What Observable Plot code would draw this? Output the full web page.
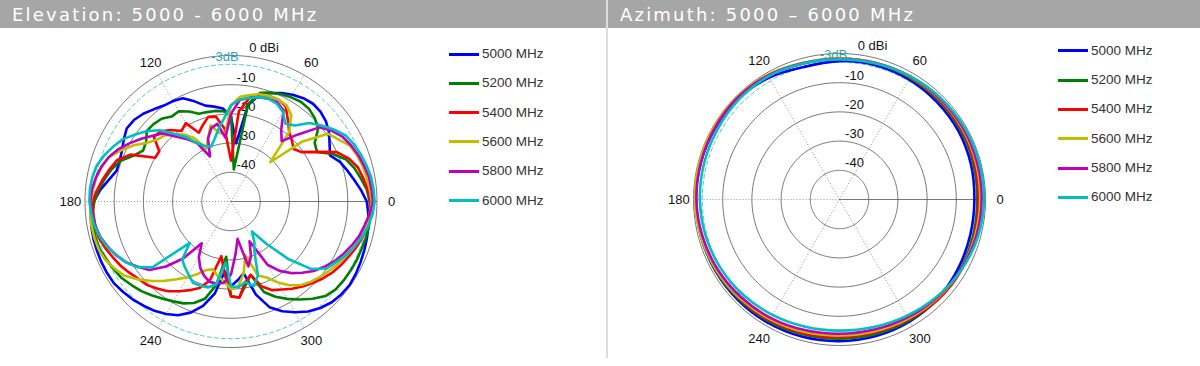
<!DOCTYPE html>
<html>
<head>
<meta charset="utf-8">
<script src="https://cdn.jsdelivr.net/npm/d3@7"></script>
<script src="https://cdn.jsdelivr.net/npm/@observablehq/plot@0.6"></script>
<style>
  html, body { margin: 0; padding: 0; background: #fff; width: 1200px; height: 366px; overflow: hidden; }
  body { position: relative; font-family: "Liberation Sans", Arial, sans-serif; }
  #hdr { position: absolute; left: 0; top: 0; width: 1200px; height: 28px; background: #a6a6a6; z-index: 5; }
  .title { position: absolute; top: 0; height: 28px; line-height: 30px; color: #fff; font-family: "DejaVu Sans", sans-serif; font-size: 18px; letter-spacing: 2.2px; white-space: nowrap; }
  #sep { position: absolute; left: 606px; top: 0; width: 2px; height: 358px; background: #dcdcdc; z-index: 6; }
  .panel { position: absolute; top: 0; }
  .lrow { position: absolute; height: 16px; white-space: nowrap; font-size: 13.5px; color: #333; }
  .lrow .sw { position: absolute; left: 0; top: 6.5px; width: 30px; height: 3px; }
  .lrow .tx { position: absolute; left: 33px; top: 0; line-height: 16px; }
</style>
</head>
<body>
<div id="hdr">
  <div class="title" style="left:12px">Elevation: 5000 - 6000 MHz</div>
  <div class="title" style="left:620px">Azimuth: 5000 – 6000 MHz</div>
</div>
<div id="sep"></div>
<div id="left" class="panel" style="left:0px"></div>
<div id="right" class="panel" style="left:607px"></div>
<div id="legL"></div>
<div id="legR"></div>
<script>
// ---------- data ----------
const freqs = ["5000 MHz", "5200 MHz", "5400 MHz", "5600 MHz", "5800 MHz", "6000 MHz"];
const colors = ["#0000ff", "#008000", "#ff0000", "#bfbf00", "#bf00bf", "#00bfbf"];

const elevAngles = [0,5,10,15,20,25,30,35,40,45,50,55,60,65,70,75,80,85,90,95,100,105,110,115,120,125,130,135,140,145,150,155,160,165,170,175,
  180,185,190,195,200,205,210,215,220,225,230,235,240,245,250,255,260,265,270,275,280,285,290,295,300,305,310,315,320,325,330,335,340,345,350,355];

const elev5000 = [-3.5,-5.3,-7.2,-8.8,-10.3,-12.6,-11,-9,-7.5,-6.6,-6.3,-6.8,-7.8,-9,-10.5,-12,-16.5,-30,-21,-18,-17,-16,-13.5,-11,-10.3,-9.9,-8.8,-7.5,-6.6,-6.4,-7.6,-8.8,-9.4,-9.4,-7.5,-5,
  -3,-1.8,-1.4,-1.2,-1.1,-1,-1,-1.1,-1.8,-2.5,-3.4,-4.3,-5.5,-7,-9.5,-13,-18,-26,-21,-23,-25,-17,-11.5,-8.5,-6.2,-4,-2.4,-1.2,-0.6,-0.3,-0.6,-1,-1.4,-1.8,-2.2,-2.8];
const elev5200 = [-2.5,-3.3,-4.8,-6.2,-8,-11.5,-16,-15,-11,-9.5,-8.5,-8.3,-8.8,-9.5,-10.3,-11.5,-16,-39,-20,-19,-18.5,-18.3,-18,-16,-14.3,-14.5,-13,-12.5,-12.4,-14.5,-15.2,-13,-9.6,-7.6,-6,-4.5,
  -3.2,-2.4,-2.1,-2,-2.2,-3,-3.6,-4.3,-5.5,-6.6,-8,-9.3,-10.5,-11.5,-13,-15.5,-21,-31,-17.5,-17,-21,-24,-17,-14,-11.5,-9,-6.5,-4.2,-3.2,-2.9,-2.7,-2.5,-2.4,-2.2,-2,-2.1];
const elev5400 = [-2.2,-3,-4,-5,-7,-10,-16,-20.5,-22,-20.5,-19,-16,-12.5,-11.5,-11.5,-12,-14,-19,-36,-25,-20.5,-20,-22,-24,-19,-20.5,-18,-16,-15.5,-20,-20,-12,-8.5,-7,-5.5,-4,
  -2.5,-2.6,-2.8,-3,-4,-5.2,-6.2,-7.5,-8.7,-9.5,-11,-12.5,-14.5,-16.5,-18.5,-22,-31,-25,-17.5,-17,-22,-24,-19,-16.5,-15.2,-13.5,-12,-10.5,-9,-7.6,-6.5,-5.5,-4.3,-3.3,-2.6,-2.3];
const elev5600 = [-1.8,-2.3,-2.8,-3.3,-4,-5,-7.5,-9.5,-18,-31,-19,-14,-12,-11.5,-11.5,-12,-13,-14,-17,-27,-26,-23,-27,-30,-25,-22,-20,-18,-17,-15,-11.5,-8.5,-5.5,-4.2,-3.2,-2.5,
  -2,-1.6,-1.5,-1.6,-1.8,-2.6,-4,-5.6,-8.5,-11.5,-14.5,-17.5,-20,-22.5,-25,-26,-24,-22.5,-20,-21,-25,-31,-23,-21.3,-18,-15,-12.7,-11.2,-10,-8.8,-7.5,-6.3,-5,-3.8,-3,-2.3];
const elev5800 = [-1.4,-1.7,-2,-2.8,-3.6,-4.6,-5.8,-7.8,-10.5,-17.5,-23,-20,-14,-12.5,-12.5,-13,-14,-15,-20,-28,-23,-24,-27,-33,-27,-24,-21,-17,-15,-12.5,-10,-7.5,-5.5,-4,-3,-2.2,
  -1.8,-2.2,-2.8,-3.6,-5,-6.5,-8.5,-11,-13.5,-18.5,-24.5,-32.5,-28,-25,-23,-21.5,-21.5,-22,-25,-32,-37,-27,-30,-35,-25,-21,-18,-15.5,-13,-11,-9.1,-7.5,-6,-4.5,-3.5,-2.3];
const elev6000 = [-0.8,-1,-1.3,-2,-2.7,-3.6,-4.7,-7,-9.5,-12,-16,-17.5,-14.5,-13,-12.5,-13,-14,-15,-17,-21.6,-25,-28,-30,-29,-27,-23,-19.7,-15.5,-12.5,-10,-7.3,-5.5,-3.8,-2.4,-1.8,-1.5,
  -1.5,-2,-2.5,-3.5,-4.8,-6.7,-8.4,-10.8,-15,-30,-24,-22.5,-21,-19.3,-19.3,-19.5,-21.3,-29,-21,-20.5,-22,-20,-23,-31,-34,-37.5,-31,-22,-14,-10,-8.5,-6.5,-5,-3.5,-2.2,-1.3];

const azAngles = [0,15,30,45,60,75,90,105,120,135,150,165,180,195,210,225,240,255,270,285,300,315,330,345];
const az5000 = [-3.8,-3.4,-3.0,-2.8,-2.5,-2.4,-2.6,-3.0,-1.8,-1.0,-0.9,-0.8,-0.8,-0.9,-1.0,-1.1,-1.2,-1.3,-1.5,-1.6,-1.8,-2.2,-3.0,-3.6];
const az5200 = [-2.8,-2.5,-2.2,-2.1,-1.9,-1.8,-1.8,-1.8,-1.2,-0.7,-0.6,-0.7,-0.8,-1.0,-1.2,-1.5,-1.8,-2.1,-2.3,-2.3,-2.2,-2.0,-2.2,-2.6];
const az5400 = [-2.4,-2.1,-1.8,-1.7,-1.6,-1.6,-1.7,-1.7,-1.1,-0.6,-0.6,-0.7,-0.8,-1.1,-1.4,-1.8,-2.2,-2.6,-2.9,-2.9,-2.6,-1.9,-1.8,-2.2];
const az5600 = [-1.8,-1.6,-1.4,-1.4,-1.5,-1.6,-1.7,-1.5,-0.7,-0.3,-0.3,-0.4,-0.5,-0.9,-1.4,-2.0,-2.6,-3.1,-3.4,-3.3,-2.9,-2.4,-2.0,-1.9];
const az5800 = [-1.3,-1.2,-1.1,-1.2,-1.4,-1.7,-1.9,-1.7,-1.0,-0.7,-0.8,-0.9,-1.0,-1.4,-1.9,-2.5,-3.1,-3.7,-4.0,-3.9,-3.4,-2.7,-2.0,-1.5];
const az6000 = [-0.5,-0.5,-0.6,-0.9,-1.3,-1.8,-2.0,-1.8,-1.3,-1.4,-1.8,-2.0,-2.2,-2.5,-3.0,-3.6,-4.3,-4.9,-5.1,-4.8,-4.0,-2.9,-1.8,-0.9];

const ringDb = [-40, -30, -20, -10, 0];
const ringLabels = ["-40", "-30", "-20", "-10"];
const spokeAngles = [60, 120, 180, 240, 300];
const angleTicks = [0, 60, 120, 180, 240, 300];
const minDb = -50;

// ---------- drawing ----------
const R = 146;            // outer radius in px
const U = R / (0 - minDb); // px per dB
const font = "'Liberation Sans', Arial, sans-serif";

function pt(deg, r) {
  const t = deg * Math.PI / 180;
  return {x: r * Math.cos(t), y: r * Math.sin(t)};
}
function gainPt(deg, g) { return pt(deg, Math.max(0, g - minDb)); }

function polar(el, {angles, gains, cx, cy, width, curve}) {
  const height = 366;
  const span = 0 - minDb;
  const gridAng = d3.range(0, 360, 2);
  const rings = ringDb.flatMap(db => gridAng.map(a => ({...gainPt(a, db), db})));
  const dash3 = gridAng.map(a => gainPt(a, -3));
  const spokes = spokeAngles.map(a => ({a, p0: gainPt(a, minDb), p1: gainPt(a, 0)}));
  const zero = [{p0: gainPt(0, minDb), p1: gainPt(0, 0)}];
  const tickLbl = angleTicks.map(a => ({...pt(a, span * 1.1), t: String(a)}));
  const ringLbl = ringLabels.map((t, i) => ({x: 15 / U, y: (ringDb[i] - minDb) + 7 / U, t}));
  const series = gains.map((g, i) => angles.map((a, j) => ({...gainPt(a, g[j]), s: freqs[i]})));

  const marks = [
    Plot.line(rings, {x: "x", y: "y", z: "db", curve: "linear-closed", stroke: "#4a4a4a", strokeWidth: 0.75}),
    Plot.line(dash3, {x: "x", y: "y", curve: "linear-closed", stroke: "#3cc4c8", strokeWidth: 0.9, strokeDasharray: "4,3"}),
    Plot.link(spokes, {x1: d => d.p0.x, y1: d => d.p0.y, x2: d => d.p1.x, y2: d => d.p1.y, stroke: "#777", strokeWidth: 0.8, strokeDasharray: "1,2"}),
    Plot.link(zero, {x1: d => d.p0.x, y1: d => d.p0.y, x2: d => d.p1.x, y2: d => d.p1.y, stroke: "#555", strokeWidth: 0.8}),
    Plot.text(tickLbl, {x: "x", y: "y", text: "t", fill: "#111", fontSize: 13}),
    Plot.text(ringLbl, {x: "x", y: "y", text: "t", fill: "#111", fontSize: 13}),
    Plot.text([{x: 33 / U, y: 154 / U, t: "0 dBi"}], {x: "x", y: "y", text: "t", fill: "#111", fontSize: 13}),
    Plot.text([{x: -6 / U, y: 145 / U, t: "-3dB"}], {x: "x", y: "y", text: "t", fill: "#2aa3b8", fontSize: 13}),
    ...series.map((d, i) => Plot.line(d, {x: "x", y: "y", curve, stroke: colors[i], strokeWidth: 2.6, strokeLinejoin: "round"}))
  ];
  const svg = Plot.plot({
    width, height,
    marginLeft: cx - R, marginRight: width - (cx + R),
    marginTop: cy - R, marginBottom: height - (cy + R),
    x: {domain: [-span, span], axis: null},
    y: {domain: [-span, span], axis: null},
    style: {fontFamily: font, fontSize: "13px", background: "transparent", overflow: "visible"},
    marks
  });
  el.appendChild(svg);
}

polar(document.getElementById("left"), {
  angles: elevAngles,
  gains: [elev5000, elev5200, elev5400, elev5600, elev5800, elev6000],
  cx: 230.5, cy: 201, width: 430, curve: "linear-closed"
});
polar(document.getElementById("right"), {
  angles: azAngles,
  gains: [az5000, az5200, az5400, az5600, az5800, az6000],
  cx: 232, cy: 199, width: 440, curve: "catmull-rom-closed"
});

function legend(el, x, y0, step) {
  freqs.forEach((f, i) => {
    const row = document.createElement("div");
    row.className = "lrow";
    row.style.left = x + "px";
    row.style.top = (y0 + i * step - 8) + "px";
    row.innerHTML = `<span class="sw" style="background:${colors[i]}"></span><span class="tx">${f}</span>`;
    el.appendChild(row);
  });
}
legend(document.getElementById("legL"), 449, 54, 29.3);
legend(document.getElementById("legR"), 1058, 50.7, 29.35);
</script>
</body>
</html>
